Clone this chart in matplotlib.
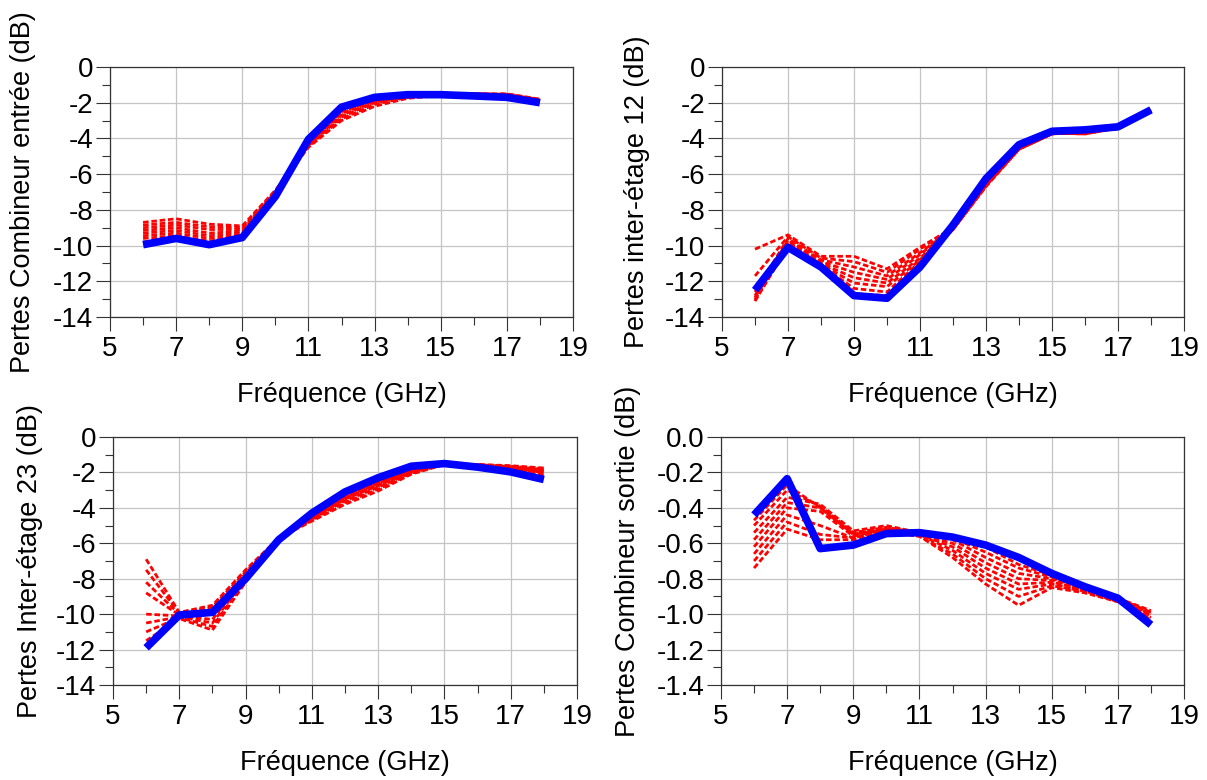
import matplotlib
matplotlib.use("Agg")
import matplotlib.pyplot as plt
import numpy as np
from matplotlib.ticker import FixedLocator, MultipleLocator, FormatStrFormatter

plt.rcParams['font.family'] = ['Liberation Sans', 'DejaVu Sans']
plt.rcParams['axes.unicode_minus'] = False

freq = [6, 7, 8, 9, 10, 11, 12, 13, 14, 15, 16, 17, 18]
xticks_major = [5, 7, 9, 11, 13, 15, 17, 19]
xticks_minor = [6, 8, 10, 12, 14, 16, 18]

# Panel 1 : Pertes Combineur entrée
blue1 = [-9.95, -9.6, -9.95, -9.55, -7.25, -4.05, -2.25, -1.7, -1.55, -1.55, -1.62, -1.7, -2.0]
red1 = [
    [-8.7, -8.5, -8.8, -8.9, -6.9, -4.5, -3.0, -2.2, -1.75, -1.6, -1.5, -1.5, -1.8],
    [-8.85, -8.7, -8.95, -9.0, -6.95, -4.45, -2.9, -2.1, -1.7, -1.58, -1.5, -1.52, -1.82],
    [-9.0, -8.85, -9.1, -9.1, -7.0, -4.4, -2.8, -2.0, -1.68, -1.57, -1.5, -1.55, -1.85],
    [-9.15, -9.0, -9.3, -9.2, -7.05, -4.35, -2.7, -1.95, -1.65, -1.56, -1.52, -1.57, -1.87],
    [-9.3, -9.15, -9.45, -9.3, -7.1, -4.3, -2.6, -1.9, -1.62, -1.55, -1.53, -1.6, -1.9],
    [-9.45, -9.3, -9.6, -9.4, -7.15, -4.25, -2.5, -1.85, -1.6, -1.55, -1.55, -1.62, -1.92],
    [-9.6, -9.45, -9.75, -9.45, -7.2, -4.2, -2.4, -1.8, -1.58, -1.55, -1.57, -1.65, -1.95],
    [-9.8, -9.55, -9.9, -9.5, -7.22, -4.1, -2.3, -1.75, -1.56, -1.55, -1.6, -1.68, -1.98],
]

# Panel 2 : Pertes inter-étage 12
blue2 = [-12.5, -10.1, -11.2, -12.8, -12.95, -11.2, -8.85, -6.25, -4.35, -3.6, -3.52, -3.35, -2.4]
red2 = [
    [-10.2, -9.4, -10.6, -10.6, -11.3, -10.1, -9.0, -6.5, -4.5, -3.7, -3.7, -3.4, -2.35],
    [-11.7, -9.5, -10.7, -10.9, -11.5, -10.2, -9.0, -6.5, -4.5, -3.7, -3.75, -3.4, -2.4],
    [-12.6, -9.6, -10.8, -11.2, -11.7, -10.4, -9.05, -6.55, -4.55, -3.7, -3.75, -3.42, -2.4],
    [-12.8, -9.7, -10.9, -11.5, -11.9, -10.5, -9.05, -6.6, -4.55, -3.72, -3.7, -3.42, -2.42],
    [-12.9, -9.8, -11.0, -11.8, -12.1, -10.7, -9.1, -6.6, -4.6, -3.72, -3.7, -3.44, -2.42],
    [-13.0, -9.9, -11.05, -12.1, -12.3, -10.8, -9.1, -6.65, -4.6, -3.74, -3.65, -3.44, -2.44],
    [-13.1, -10.0, -11.1, -12.4, -12.6, -10.9, -9.1, -6.65, -4.6, -3.75, -3.65, -3.45, -2.44],
    [-13.1, -10.05, -11.15, -12.7, -12.8, -11.0, -9.1, -6.7, -4.6, -3.75, -3.6, -3.45, -2.45],
]

# Panel 3 : Pertes Inter-étage 23
blue3 = [-11.9, -10.05, -9.9, -8.0, -5.8, -4.3, -3.1, -2.3, -1.65, -1.5, -1.7, -1.97, -2.4]
red3 = [
    [-6.9, -9.9, -9.5, -7.5, -5.7, -4.75, -3.8, -3.05, -2.1, -1.55, -1.55, -1.62, -1.75],
    [-7.5, -9.95, -9.6, -7.6, -5.72, -4.7, -3.7, -2.95, -2.05, -1.55, -1.56, -1.65, -1.8],
    [-8.2, -10.0, -9.8, -7.7, -5.74, -4.65, -3.6, -2.85, -2.0, -1.53, -1.57, -1.68, -1.85],
    [-8.8, -10.05, -10.0, -7.8, -5.75, -4.6, -3.5, -2.75, -1.95, -1.52, -1.58, -1.72, -1.9],
    [-10.0, -10.1, -10.3, -7.9, -5.76, -4.55, -3.45, -2.7, -1.9, -1.52, -1.6, -1.76, -1.95],
    [-10.5, -10.15, -10.5, -8.0, -5.77, -4.5, -3.4, -2.6, -1.85, -1.51, -1.62, -1.8, -2.0],
    [-11.0, -10.2, -10.7, -8.1, -5.78, -4.45, -3.3, -2.55, -1.8, -1.5, -1.64, -1.85, -2.05],
    [-11.5, -10.25, -10.9, -8.2, -5.8, -4.4, -3.25, -2.5, -1.75, -1.5, -1.66, -1.9, -2.15],
]

# Panel 4 : Pertes Combineur sortie
blue4 = [-0.44, -0.235, -0.63, -0.61, -0.545, -0.54, -0.565, -0.61, -0.68, -0.77, -0.845, -0.91, -1.06]
red4 = [
    [-0.47, -0.27, -0.40, -0.55, -0.52, -0.54, -0.56, -0.62, -0.72, -0.78, -0.84, -0.91, -0.98],
    [-0.50, -0.30, -0.39, -0.54, -0.51, -0.54, -0.57, -0.65, -0.74, -0.79, -0.85, -0.91, -0.99],
    [-0.54, -0.34, -0.38, -0.53, -0.50, -0.54, -0.58, -0.68, -0.77, -0.80, -0.85, -0.92, -0.99],
    [-0.58, -0.37, -0.40, -0.55, -0.51, -0.55, -0.60, -0.71, -0.80, -0.81, -0.86, -0.92, -1.00],
    [-0.62, -0.40, -0.42, -0.56, -0.52, -0.55, -0.62, -0.74, -0.83, -0.82, -0.86, -0.92, -1.00],
    [-0.66, -0.44, -0.50, -0.57, -0.52, -0.55, -0.64, -0.77, -0.86, -0.83, -0.87, -0.92, -1.01],
    [-0.70, -0.48, -0.55, -0.57, -0.53, -0.56, -0.66, -0.80, -0.90, -0.84, -0.87, -0.93, -1.02],
    [-0.74, -0.52, -0.58, -0.58, -0.54, -0.56, -0.68, -0.83, -0.95, -0.85, -0.88, -0.93, -1.03],
]

ylabels = ["Pertes Combineur entrée (dB)", "Pertes inter-étage 12 (dB)",
           "Pertes Inter-étage 23 (dB)", "Pertes Combineur sortie (dB)"]
xlabel = "Fréquence (GHz)"

W, H = 1207, 780
fig = plt.figure(figsize=(W / 100, H / 100), dpi=100)

# axes boxes in pixels: left, top, right, bottom
boxes = [(110, 67, 573, 317), (722, 67, 1184, 317),
         (113, 437, 577, 685), (721, 437, 1184, 685)]
ylab_off = [87, 85, 83, 93]
panels = [(blue1, red1, (-14, 0), 2, 1, "%g"),
          (blue2, red2, (-14, 0), 2, 1, "%g"),
          (blue3, red3, (-14, 0), 2, 1, "%g"),
          (blue4, red4, (-1.4, 0), 0.2, 0.1, "%.1f")]

for i, ((l, t, r, b), (blue, reds, ylim, ymaj, ymin, fmt)) in enumerate(zip(boxes, panels)):
    ax = fig.add_axes([l / W, 1 - b / H, (r - l) / W, (b - t) / H])
    for rc in reds:
        ax.plot(freq, rc, color='#ff0000', lw=2.0, linestyle=(0, (2.0, 1.0)), zorder=3)
    ax.plot(freq, blue, color='#0000ff', lw=5.5, solid_capstyle='butt', zorder=4)
    ax.set_xlim(5, 19)
    ax.set_ylim(*ylim)
    ax.xaxis.set_major_locator(FixedLocator(xticks_major))
    ax.xaxis.set_minor_locator(FixedLocator(xticks_minor))
    ax.yaxis.set_major_locator(MultipleLocator(ymaj))
    ax.yaxis.set_minor_locator(MultipleLocator(ymin))
    ax.yaxis.set_major_formatter(FormatStrFormatter(fmt))
    ax.grid(True, which='major', color='#c4c4c4', lw=0.9, zorder=0)
    ax.set_axisbelow(True)
    ax.tick_params(which='major', direction='out', length=10, width=0.8,
                   color='#333333', labelsize=20, pad=2)
    ax.tick_params(which='minor', direction='out', length=6, width=0.8, color='#333333')
    ax.tick_params(axis='x', which='major', pad=4)
    for s in ax.spines.values():
        s.set_color('#333333')
        s.set_linewidth(0.9)
    ax.set_ylabel(ylabels[i], fontsize=19.5, va='center')
    ax.yaxis.set_label_coords(-ylab_off[i] / (r - l), 0.5)
    ax.set_xlabel(xlabel, fontsize=19.5, va='center')
    ax.xaxis.set_label_coords(0.5, -78 / (b - t))

fig.savefig("out.png", dpi=100)
